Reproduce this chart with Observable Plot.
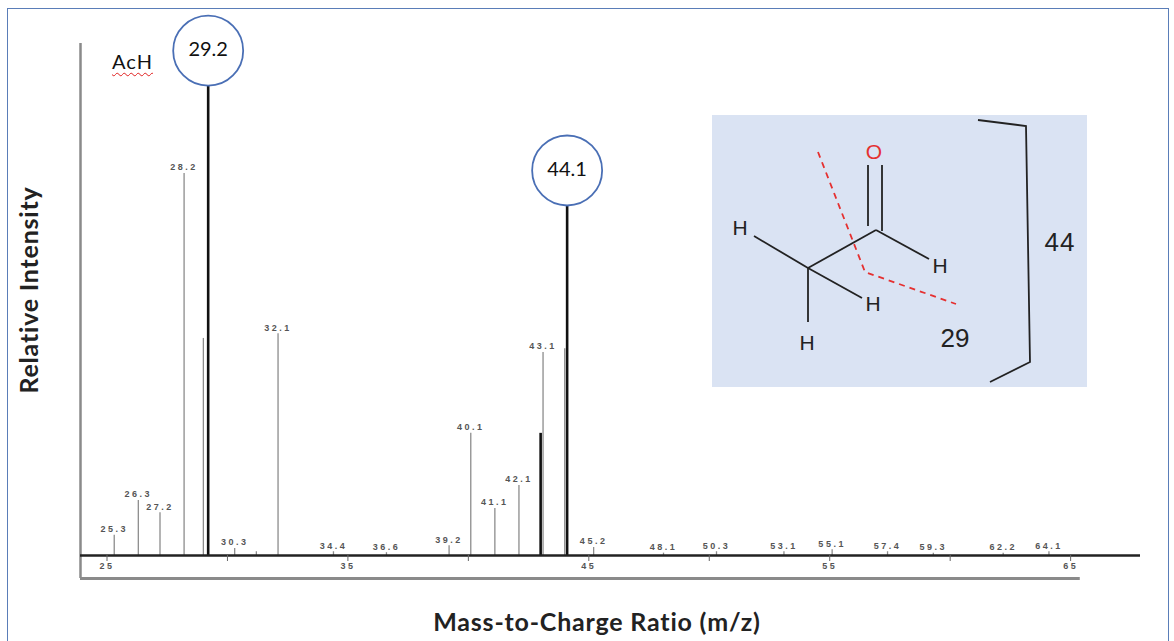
<!DOCTYPE html>
<html>
<head>
<meta charset="utf-8">
<script src="https://cdn.jsdelivr.net/npm/d3@7"></script>
<script src="https://cdn.jsdelivr.net/npm/@observablehq/plot@0.6"></script>
<style>
  html, body { margin: 0; padding: 0; background: #fff; }
  #wrap { position: relative; width: 1174px; height: 641px; overflow: hidden; font-family: Lato, "Liberation Sans", sans-serif; }
  #chart { position: absolute; left: 0; top: 0; }
  #chart [font-size="9"] text { letter-spacing: 2.5px; }
  .abs { position: absolute; }
  #frame { left: 7px; top: 8px; width: 1162px; height: 650px; border: 1.5px solid #5a7db8; box-sizing: border-box; }
  #ach { left: 112px; top: 49px; font-size: 20px; letter-spacing: 1px; color: #111; text-decoration: underline wavy #e02020; text-decoration-skip-ink: none; text-underline-offset: 3px; text-decoration-thickness: 1px; }
  #ytitle { left: 28px; top: 290px; transform: translate(-50%, -50%) rotate(-90deg); font-size: 25px; letter-spacing: 0.8px; font-weight: bold; color: #222; white-space: nowrap; }
  #xtitle { left: 597px; top: 621px; transform: translate(-50%, -50%); font-size: 25px; letter-spacing: 0.8px; font-weight: bold; color: #222; white-space: nowrap; }
  #inset { left: 0; top: 0; }
</style>
</head>
<body>
<div id="wrap">
  <div id="chart"></div>
  <div id="frame" class="abs"></div>
  <div id="ach" class="abs">AcH</div>
  <div id="ytitle" class="abs">Relative Intensity</div>
  <div id="xtitle" class="abs">Mass-to-Charge Ratio (m/z)</div>
  <svg id="inset" class="abs" width="1174" height="641" font-family="'Liberation Sans', Arial, sans-serif">
    <rect x="712" y="115" width="375" height="272" fill="#dae3f3"/>
    <g stroke="#222" stroke-width="1.8" fill="none">
      <line x1="868" y1="165" x2="868" y2="226"/>
      <line x1="882" y1="165" x2="882" y2="231"/>
      <line x1="876" y1="230" x2="808" y2="268"/>
      <line x1="876" y1="230" x2="929" y2="259"/>
      <line x1="808" y1="268" x2="754" y2="236"/>
      <line x1="808" y1="268" x2="862" y2="298"/>
      <line x1="808" y1="268" x2="808" y2="322"/>
      <polyline points="978,120 1026,126 1030,362 990,382"/>
    </g>
    <polyline points="818,152 865,272 956,304" fill="none" stroke="#e53030" stroke-width="1.8" stroke-dasharray="6,5"/>
    <g font-size="21" fill="#222" text-anchor="middle">
      <text x="874" y="159" fill="#e53030">O</text>
      <text x="740" y="235">H</text>
      <text x="940" y="273">H</text>
      <text x="873" y="311">H</text>
      <text x="807" y="350">H</text>
    </g>
    <text x="955" y="347" font-size="26" fill="#222" text-anchor="middle">29</text>
    <text x="1060" y="251" font-size="26" fill="#222" text-anchor="middle" letter-spacing="1">44</text>
  </svg>
</div>
<script>
// ---- data (relative intensity, base peak = 100) ----
const grayMz    = [25.3, 26.3, 27.2, 28.2, 29.0, 30.3, 31.2, 32.1, 34.4, 36.6, 39.2, 40.1, 41.1, 42.1, 43.1, 44.0, 45.2, 48.1, 50.3, 53.1, 55.1, 57.4, 59.3, 62.2, 64.1];
const grayInt   = [4.3, 11.7, 9.1, 81.3, 46.2, 1.5, 0.8, 47.2, 0.8, 0.6, 2.1, 26.0, 10.0, 14.9, 43.2, 44.0, 1.7, 0.5, 0.8, 0.8, 1.2, 0.8, 0.5, 0.5, 0.8];
const grayLabel = ["25.3","26.3","27.2","28.2","","30.3","","32.1","34.4","36.6","39.2","40.1","41.1","42.1","43.1","","45.2","48.1","50.3","53.1","55.1","57.4","59.3","62.2","64.1"];

const blackMz    = [29.2, 43.0, 44.1];
const blackInt   = [100, 26.0, 74.5];
const blackLabel = ["29.2", "", "44.1"];

const xTicks = [25, 30, 35, 40, 45, 50, 55, 60, 65];
const xDomain = [23.9, 67.9];
const yDomain = [0, 116];
const yAxisTop = 109;
const frameBottom = -4.9;
const boxRight = 65.4;

const gray = grayMz.map((m, i) => ({mz: m, v: grayInt[i], label: grayLabel[i]}));
const black = blackMz.map((m, i) => ({mz: m, v: blackInt[i], label: blackLabel[i]}));
const circled = black.filter(d => d.label !== "");

const plot = Plot.plot({
  width: 1174,
  height: 641,
  marginLeft: 80,
  marginRight: 34,
  marginTop: 10,
  marginBottom: 86,
  style: {background: "transparent", overflow: "visible"},
  x: {domain: xDomain},
  y: {domain: yDomain, axis: null},
  marks: [
    Plot.ruleX([xDomain[0]], {y1: frameBottom, y2: yAxisTop, stroke: "#8a8a8a", strokeWidth: 2.5}),
    Plot.ruleY([frameBottom], {x1: xDomain[0], x2: boxRight, stroke: "#8a8a8a", strokeWidth: 3}),
    Plot.ruleX(gray, {x: "mz", y1: 0, y2: "v", stroke: "#8c8c8c", strokeWidth: 1.3}),
    Plot.ruleX(black, {x: "mz", y1: 0, y2: "v", stroke: "#111", strokeWidth: 2.6}),
    Plot.ruleY([0], {stroke: "#222", strokeWidth: 2.5}),
    Plot.axisX({ticks: xTicks, tickSize: 6, tickPadding: 1, tickFormat: d => (d % 10 === 5 ? String(d) : ""),
                fontSize: 9, fontWeight: "bold", fill: "#555", stroke: "#666", label: null}),
    Plot.text(gray.filter(d => d.label !== ""), {x: "mz", y: "v", text: "label", dy: -6, fontSize: 9,
                fontWeight: "bold", fill: "#555"}),
    Plot.dot(circled, {x: "mz", y: "v", r: 35, dy: -35, fill: "white", stroke: "#4a6fb5", strokeWidth: 1.8}),
    Plot.text(circled, {x: "mz", y: "v", text: "label", dy: -36, fontSize: 20, fill: "#111",
                fontFamily: "Lato, sans-serif"})
  ]
});
plot.style.fontFamily = "'Liberation Sans', Arial, sans-serif";
document.getElementById("chart").appendChild(plot);
</script>
</body>
</html>
